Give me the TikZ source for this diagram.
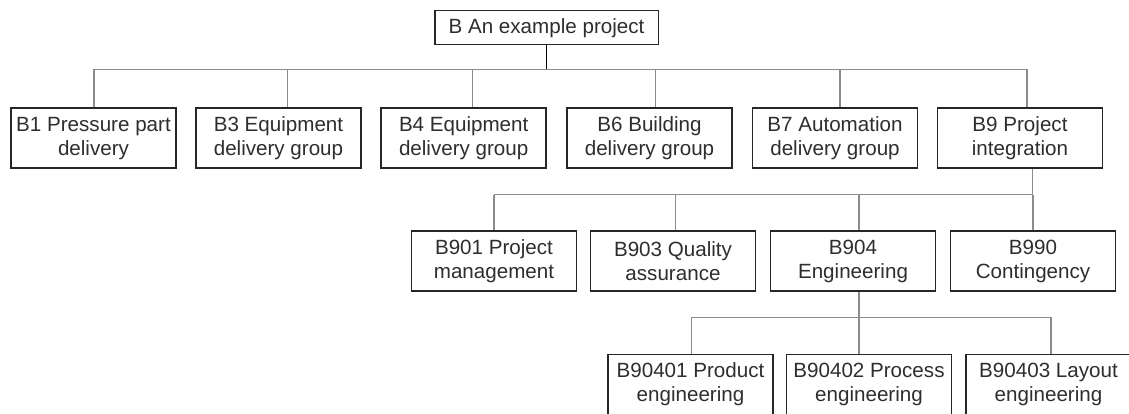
\documentclass[tikz,border=0pt]{standalone}
\usepackage{fontspec}
\setmainfont{Liberation Sans}
\begin{document}
\begin{tikzpicture}[x=1pt,y=-1pt,
  box/.style={draw=boxline, line width=1.6pt, fill=white, text=txt,
    minimum width=165pt, minimum height=60pt, inner sep=0pt, align=center,
    font=\fontsize{20.6}{24}\selectfont},
  rootbox/.style={box, minimum width=223.6pt, minimum height=34pt},
  conn/.style={draw=connline, line width=1.2pt},
  rootconn/.style={draw=black, line width=1.5pt}]
\definecolor{boxline}{HTML}{262626}
\definecolor{connline}{HTML}{8C8C8C}
\definecolor{txt}{HTML}{2E2E2E}
\useasboundingbox (0,0) rectangle (1129,414);
\clip (0,0) rectangle (1129,414);

% bus levels
\coordinate (bus1) at (0,69.3);
\coordinate (bus2) at (0,194.7);
\coordinate (bus3) at (0,317.3);

% top level
\node[rootbox] (root) at (546.5,27.7) {B An example project};

% first level
\node[box] (b1) at (93.5,138.3)  {B1 Pressure part\\delivery};
\node[box] (b3) at (278.5,138.3) {B3 Equipment\\delivery group};
\node[box] (b4) at (463.7,138.3) {B4 Equipment\\delivery group};
\node[box] (b6) at (649.5,138.3) {B6 Building\\delivery group};
\node[box] (b7) at (835,138.3)   {B7 Automation\\delivery group};
\node[box] (b9) at (1020,138.3)  {B9 Project\\integration};

% second level
\node[box] (b901) at (494,261.2)  {B901 Project\\management};
\node[box] (b903) at (673,261.2)  {B903 Quality\\assurance};
\node[box] (b904) at (853,261.2)  {B904\\Engineering};
\node[box] (b990) at (1033,261.2) {B990\\Contingency};

% third level
\node[box] (b90401) at (690.5,384.3) {B90401 Product\\engineering};
\node[box] (b90402) at (869,384.3)   {B90402 Process\\engineering};
\node[box] (b90403) at (1048.5,384.3){B90403 Layout\\engineering};

% root to first level
\draw[rootconn] (root.south) -- (root.south |- bus1);
\draw[conn] ([xshift=0.5pt]b1.north |- bus1) -- ([xshift=7pt]b9.north |- bus1);
\foreach \n/\d in {b1/0.5, b3/8.8, b4/8.6, b6/5.8, b7/5, b9/7}
  \draw[conn] ([xshift=\d pt]\n.north) -- ([xshift=\d pt]\n.north |- bus1);

% B9 to second level
\draw[conn] ([xshift=12.7pt]b9.south) -- ([xshift=12.7pt]b9.south |- bus2);
\draw[conn] (b901.north |- bus2) -- ([xshift=12.7pt]b9.south |- bus2);
\foreach \n/\d in {b901/0, b903/2.7, b904/6, b990/0}
  \draw[conn] ([xshift=\d pt]\n.north) -- ([xshift=\d pt]\n.north |- bus2);

% B904 to third level
\draw[conn] ([xshift=6pt]b904.south) -- ([xshift=-10pt]b90402.north);
\draw[conn] ([xshift=1.2pt]b90401.north |- bus3) -- ([xshift=2.5pt]b90403.north |- bus3);
\foreach \n/\d in {b90401/1.2, b90403/2.5}
  \draw[conn] ([xshift=\d pt]\n.north) -- ([xshift=\d pt]\n.north |- bus3);
\end{tikzpicture}
\end{document}
